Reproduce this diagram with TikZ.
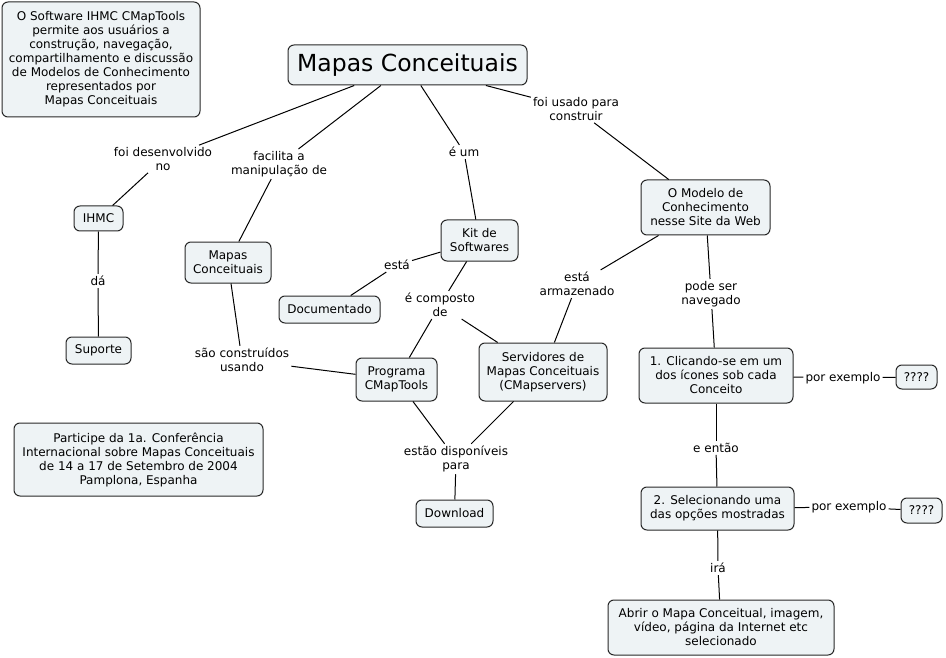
\documentclass[tikz,border=0pt]{standalone}
\usepackage{fontspec}
\setmainfont{DejaVu Sans}
\definecolor{boxfill}{RGB}{238,243,245}
\definecolor{boxline}{RGB}{40,40,40}
\begin{document}
\begin{tikzpicture}[x=1pt,y=-1pt,
  concept/.style={draw=boxline,fill=boxfill,line width=1pt,rounded corners=6pt,align=center,inner sep=1pt,font=\fontsize{12}{14}\selectfont},
  linkph/.style={align=center,inner sep=2pt,font=\fontsize{12}{14}\selectfont}]
\useasboundingbox[fill=white] (0,0) rectangle (946,658);
\node[concept,minimum width=198pt,minimum height=115pt] (info) at (101,59.5) {O Software IHMC CMapTools\\permite aos usuários a\\construção, navegação,\\compartilhamento e discussão\\de Modelos de Conhecimento\\representados por\\Mapas Conceituais};
\node[concept,minimum width=239pt,minimum height=40pt,font=\fontsize{23.5}{28}\selectfont] (title) at (407.5,65) {Mapas Conceituais};
\node[concept,minimum width=49pt,minimum height=25pt] (ihmc) at (98.5,218.5) {IHMC};
\node[concept,minimum width=86pt,minimum height=41pt] (mapas) at (228,262.5) {Mapas\\Conceituais};
\node[concept,minimum width=77pt,minimum height=41pt] (kit) at (479.5,240.5) {Kit de\\Softwares};
\node[concept,minimum width=101pt,minimum height=27pt] (doc) at (329.5,309.5) {Documentado};
\node[concept,minimum width=65pt,minimum height=27pt] (suporte) at (98.5,350.5) {Suporte};
\node[concept,minimum width=81pt,minimum height=43pt] (prog) at (396.5,379.5) {Programa\\CMapTools};
\node[concept,minimum width=128pt,minimum height=58pt] (serv) at (543,372) {Servidores de\\Mapas Conceituais\\(CMapservers)};
\node[concept,minimum width=129pt,minimum height=55pt] (modelo) at (705.5,207.5) {O Modelo de\\Conhecimento\\nesse Site da Web};
\node[concept,minimum width=154pt,minimum height=55pt] (click) at (716,375.5) {1. Clicando-se em um\\dos ícones sob cada\\Conceito};
\node[concept,minimum width=41pt,minimum height=24pt] (ex1) at (916.5,377) {????};
\node[concept,minimum width=153pt,minimum height=43pt] (sel) at (717.5,508.5) {2. Selecionando uma\\das opções mostradas};
\node[concept,minimum width=41pt,minimum height=25pt] (ex2) at (921.5,510.5) {????};
\node[concept,minimum width=226pt,minimum height=55pt] (abrir) at (721,627.5) {Abrir o Mapa Conceitual, imagem,\\vídeo, página da Internet etc\\selecionado};
\node[concept,minimum width=249pt,minimum height=73pt] (conf) at (138.5,459.5) {Participe da 1a. Conferência\\Internacional sobre Mapas Conceituais\\de 14 a 17 de Setembro de 2004\\Pamplona, Espanha};
\node[concept,minimum width=77pt,minimum height=27pt] (down) at (454.5,513.5) {Download};
\node[linkph] (lDesenv) at (163,159) {foi desenvolvido\\no};
\node[linkph] (lFacil) at (279,164) {facilita a\\manipulação de};
\node[linkph] (lEum) at (464,152) {é um};
\node[linkph] (lUsado) at (576,109) {foi usado para\\construir};
\node[linkph] (lDa) at (98,281) {dá};
\node[linkph] (lEsta) at (397,265) {está};
\node[linkph] (lComp) at (440,305) {é composto\\de};
\node[linkph] (lConstr) at (242,360) {são construídos\\usando};
\node[linkph] (lArmaz) at (577,284) {está\\armazenado};
\node[linkph] (lPode) at (711,294) {pode ser\\navegado};
\node[linkph] (lDisp) at (456,459) {estão disponíveis\\para};
\node[linkph] (lPor1) at (843,378) {por exemplo};
\node[linkph] (lEntao) at (716,448) {e então};
\node[linkph] (lPor2) at (849,507) {por exemplo};
\node[linkph] (lIra) at (718,568) {irá};
\foreach \a/\b in {title/lDesenv,lDesenv/ihmc,title/lFacil,lFacil/mapas,title/lEum,lEum/kit,
  title/lUsado,lUsado/modelo,ihmc/lDa,lDa/suporte,kit/lEsta,lEsta/doc,kit/lComp,lComp/prog,
  lComp/serv,mapas/lConstr,lConstr/prog,modelo/lArmaz,lArmaz/serv,modelo/lPode,lPode/click,
  prog/lDisp,serv/lDisp,lDisp/down,click/lPor1,lPor1/ex1,click/lEntao,lEntao/sel,
  sel/lPor2,lPor2/ex2,sel/lIra,lIra/abrir} {
  \draw[line width=1pt] (\a)--(\b);
}
\end{tikzpicture}
\end{document}
